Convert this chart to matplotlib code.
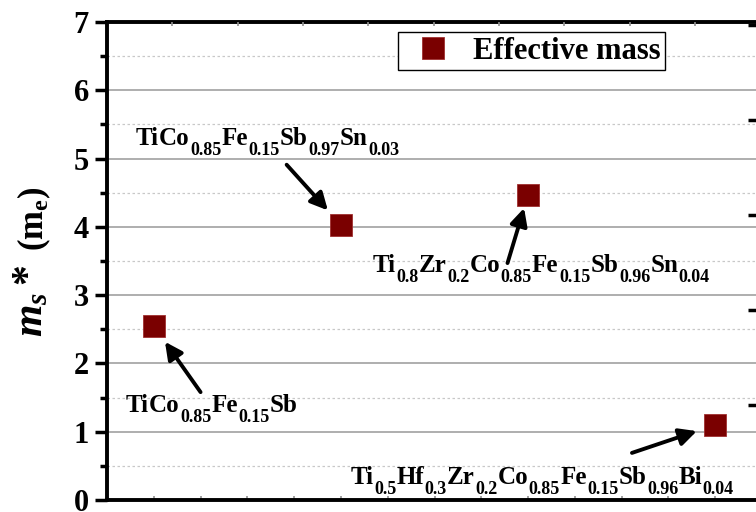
import numpy as np
import matplotlib
matplotlib.use("Agg")
import matplotlib.pyplot as plt

plt.rcParams['font.family'] = 'Liberation Serif'
plt.rcParams['font.weight'] = 'bold'
plt.rcParams['mathtext.fontset'] = 'custom'
plt.rcParams['mathtext.rm'] = 'Liberation Serif:bold'
plt.rcParams['mathtext.bf'] = 'Liberation Serif:bold'
plt.rcParams['mathtext.it'] = 'Liberation Serif:bold:italic'

# compositions as (element, fraction) pairs, fraction '' means no subscript
compounds = [
    [('Ti', ''), ('Co', '0.85'), ('Fe', '0.15'), ('Sb', '')],
    [('Ti', ''), ('Co', '0.85'), ('Fe', '0.15'), ('Sb', '0.97'), ('Sn', '0.03')],
    [('Ti', '0.8'), ('Zr', '0.2'), ('Co', '0.85'), ('Fe', '0.15'), ('Sb', '0.96'), ('Sn', '0.04')],
    [('Ti', '0.5'), ('Hf', '0.3'), ('Zr', '0.2'), ('Co', '0.85'), ('Fe', '0.15'), ('Sb', '0.96'), ('Bi', '0.04')],
]
sample_x = [1, 2, 3, 4]
eff_mass = [2.55, 4.03, 4.47, 1.10]

# where each formula label sits (left, baseline) and where its arrow starts
label_pos = [(0.85, 1.29), (0.905, 5.20), (2.17, 3.34), (2.05, 0.235)]
arrow_tail = [(1.25, 1.58), (1.71, 4.91), (2.89, 3.47), (3.555, 0.69)]
arrow_gap = [14, 14, 10, 14]

fig = plt.figure(figsize=(7.56, 5.12), dpi=100)
ax = fig.add_axes([0.1415, 0.0234, 0.8665, 0.9336])
rend = fig.canvas.get_renderer()


def draw_formula(x, y, parts, size=18, subsize=13, drop=7):
    # element symbols on the baseline, fractions as dropped subscripts
    off = 0.0
    for el, sub in parts:
        t = ax.annotate(el, (x, y), xytext=(off, 0), textcoords='offset points',
                        fontsize=size, va='baseline', ha='left')
        off += t.get_window_extent(rend).width * 72 / fig.dpi
        if sub:
            t = ax.annotate(sub, (x, y), xytext=(off + 0.5, -drop), textcoords='offset points',
                            fontsize=subsize, va='baseline', ha='left')
            off += t.get_window_extent(rend).width * 72 / fig.dpi + 0.5


ax.set_xlim(0.75, 4.25)
ax.set_ylim(0, 7)

# grid: solid at integers, dotted at halves
ax.set_yticks(np.arange(0, 8, 1))
ax.set_yticks(np.arange(0.5, 7, 1), minor=True)
ax.grid(axis='y', which='major', color='#a8a8a8', lw=1.3, zorder=0)
ax.grid(axis='y', which='minor', color='#c8c8c8', lw=0.9, ls=(0, (2, 2)), zorder=0)
ax.set_axisbelow(True)

ax.set_xticks(np.arange(0.75, 4.26, 0.25))
ax.set_xticklabels([])
ax.tick_params(axis='x', direction='in', length=3, width=1.2, color='#909090')
ax.tick_params(axis='y', which='major', direction='out', length=9, width=2.5,
               labelsize=22, pad=4)
ax.tick_params(axis='y', which='minor', direction='out', length=5, width=2.5)

for sp in ['left', 'bottom', 'top', 'right']:
    ax.spines[sp].set_linewidth(2.8)

ax.plot(sample_x, eff_mass, ls='none', marker='s', ms=16, color='#7a0000',
        mec='#a03030', mew=0.6, label='Effective mass', zorder=5)

for parts, (lx, ly), tail, gap, xv, yv in zip(compounds, label_pos, arrow_tail,
                                              arrow_gap, sample_x, eff_mass):
    draw_formula(lx, ly, parts)
    ax.annotate('', xy=(xv, yv), xytext=tail,
                arrowprops=dict(arrowstyle='-|>', lw=2.8, color='black',
                                mutation_scale=26, shrinkA=0, shrinkB=gap))

# secondary scales only show as tick marks at the top and right edges
top = ax.twiny()
top.set_xlim(ax.get_xlim())
top.set_xticks(np.arange(1.1, 4.25, 0.349))
top.set_xticklabels([])
top.tick_params(axis='x', direction='in', length=3, width=1.2, color='#909090')
right = ax.twinx()
right.set_ylim(ax.get_ylim())
right.set_yticks(np.arange(1.39, 7, 1.39))
right.set_yticklabels([])
right.tick_params(axis='y', direction='in', length=10, width=2.5)
for a in (top, right):
    for sp in a.spines.values():
        sp.set_visible(False)

leg = ax.legend(loc='upper left', bbox_to_anchor=(398 / 756, 1 - 32 / 512),
                bbox_transform=fig.transFigure, frameon=True, fancybox=False,
                edgecolor='black', framealpha=1, fontsize=22, handletextpad=0.3,
                borderpad=0.15, borderaxespad=0, handlelength=2.0, markerscale=0.95)
leg.get_frame().set_linewidth(1.0)

ylab = dict(rotation=90, rotation_mode='anchor', ha='left', va='baseline')
fig.text(42 / 756, 1 - 337 / 512, r'$m_{s}$', fontsize=30, **ylab)
fig.text(39 / 756, 1 - 284 / 512, '*', fontsize=30, **ylab)
fig.text(43 / 756, 1 - 251 / 512, r'(m$_{\mathrm{e}}$)', fontsize=25, **ylab)

fig.savefig('out.png', dpi=100)
